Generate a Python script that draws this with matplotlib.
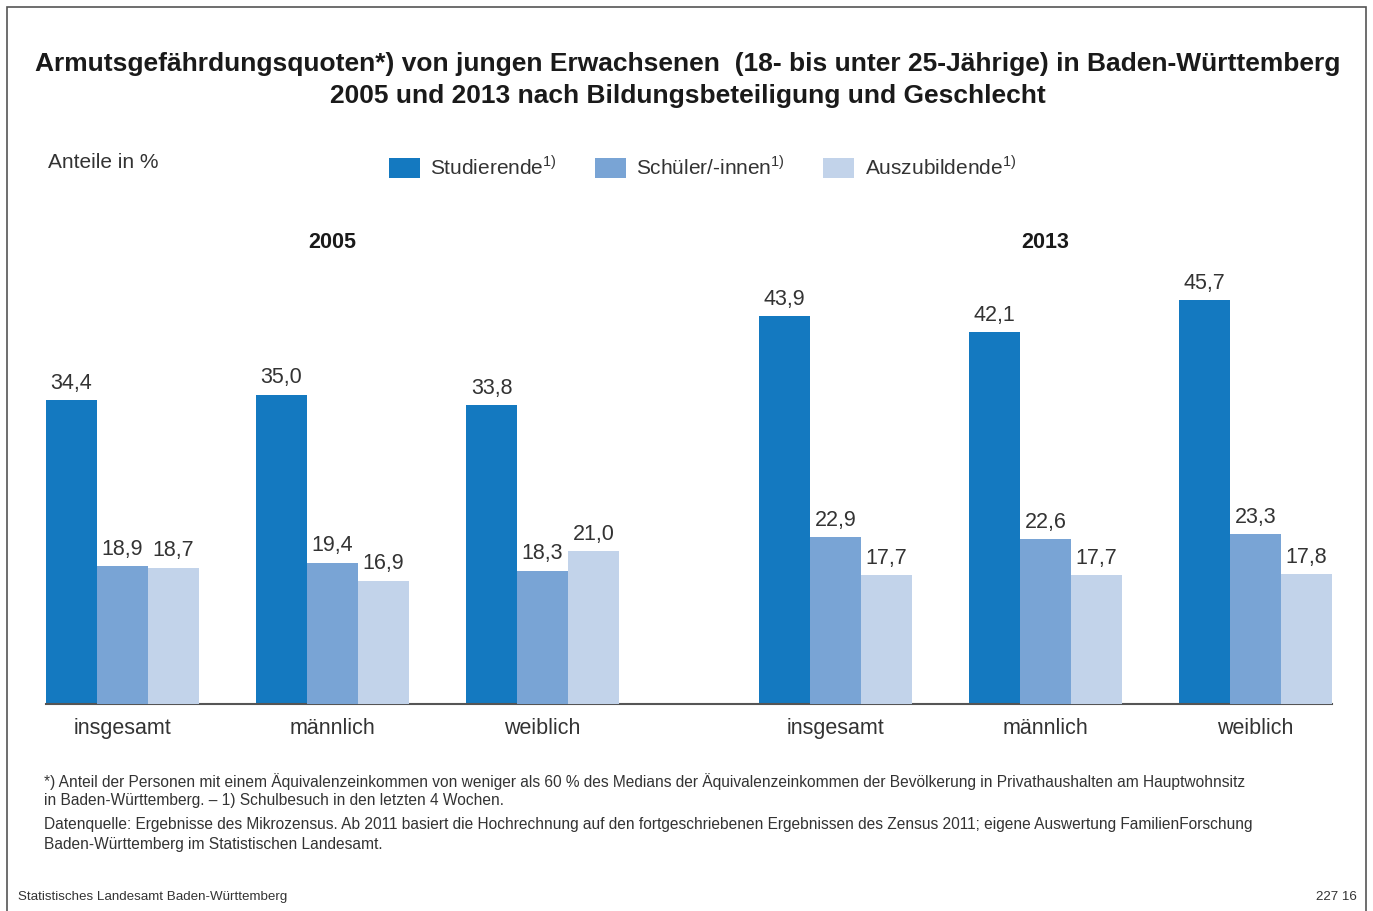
# Armutsgefaehrdungsquoten junger Erwachsener in BW, 2005 und 2013
import numpy as np
import matplotlib.pyplot as plt
from matplotlib.patches import Rectangle

plt.rcParams['font.family'] = ['Liberation Sans', 'DejaVu Sans']
plt.rcParams['mathtext.fontset'] = 'custom'
plt.rcParams['mathtext.rm'] = 'Liberation Sans'

groups = ['insgesamt', 'männlich', 'weiblich', 'insgesamt', 'männlich', 'weiblich']
years = ['2005', '2013']
studierende = [34.4, 35.0, 33.8, 43.9, 42.1, 45.7]
schueler = [18.9, 19.4, 18.3, 22.9, 22.6, 23.3]
azubis = [18.7, 16.9, 21.0, 17.7, 17.7, 17.8]

series = [studierende, schueler, azubis]
names = ['Studierende$^{\\mathrm{1)}}$', 'Schüler/-innen$^{\\mathrm{1)}}$', 'Auszubildende$^{\\mathrm{1)}}$']
colors = ['#1479c0', '#79a4d5', '#c2d3ea']
txt = '#333333'

fig = plt.figure(figsize=(13.73, 9.11), dpi=100)
W, H = 1373, 911

# frame round the whole figure
fig.patches.append(Rectangle((7 / W, -0.01), 1359 / W, 1 - 7 / H + 0.01,
                             transform=fig.transFigure, fill=False,
                             edgecolor='#555555', linewidth=1.2))

ax = fig.add_axes([46 / W, 1 - 704 / H, (1332 - 46) / W, 442 / H])
# the original draws the Studierende bars on a different scale than the
# other two series, so those two get their own (hidden) axis
ax2 = ax.twinx()

gap = 1.395
x = np.array([0, 1, 2, 2 + gap, 3 + gap, 4 + gap])
w = 0.243

handles = []
for i, (vals, name, c) in enumerate(zip(series, names, colors)):
    a = ax if i == 0 else ax2
    b = a.bar(x + (i - 1) * w, vals, width=w, color=c, label=name)
    handles.append(b)
    for rect, v in zip(b, vals):
        a.annotate(f'{v:.1f}'.replace('.', ','),
                   (rect.get_x() + rect.get_width() / 2, rect.get_height()),
                   xytext=(0, 4.5), textcoords='offset points',
                   ha='center', va='bottom', fontsize=15.5, color=txt)

ax.set_xlim(x[0] - 1.5 * w, x[-1] + 1.5 * w)
ax.set_ylim(0, 50)
ax2.set_ylim(0, 60.6)
ax.set_xticks(x)
ax.set_xticklabels(groups, fontsize=15.5, color=txt)
ax.tick_params(axis='x', length=0, pad=10)
for a in (ax, ax2):
    a.set_yticks([])
    for s in ['top', 'left', 'right']:
        a.spines[s].set_visible(False)
ax2.spines['bottom'].set_visible(False)
ax.spines['bottom'].set_color('#555555')
ax.spines['bottom'].set_linewidth(1.5)
ax.spines['bottom'].set_zorder(5)

# year headings over the middle group
for yr, xc in zip(years, [x[1], x[4]]):
    ax.text(xc, 52.2, yr, ha='center', va='center', fontsize=15.5,
            fontweight='bold', color='#1a1a1a', clip_on=False)

fig.legend(handles=handles, loc='center left',
           bbox_to_anchor=(370 / W, 1 - 167 / H),
           ncol=3, frameon=False,
           fontsize=15, handlelength=1.5, handleheight=1.1,
           handletextpad=0.5, columnspacing=1.8, labelcolor=txt)

fig.text(688 / W, 1 - 64 / H,
         'Armutsgefährdungsquoten*) von jungen Erwachsenen  (18- bis unter 25-Jährige) in Baden-Württemberg',
         ha='center', va='center', fontsize=19, fontweight='bold', color='#1a1a1a')
fig.text(688 / W, 1 - 96 / H,
         '2005 und 2013 nach Bildungsbeteiligung und Geschlecht',
         ha='center', va='center', fontsize=19, fontweight='bold', color='#1a1a1a')

fig.text(48 / W, 1 - 163 / H, 'Anteile in %', ha='left', va='center',
         fontsize=15, color=txt)

foot = [
    (782, '*) Anteil der Personen mit einem Äquivalenzeinkommen von weniger als 60 % des Medians der Äquivalenzeinkommen der Bevölkerung in Privathaushalten am Hauptwohnsitz'),
    (801, 'in Baden-Württemberg. – 1) Schulbesuch in den letzten 4 Wochen.'),
    (825, 'Datenquelle: Ergebnisse des Mikrozensus. Ab 2011 basiert die Hochrechnung auf den fortgeschriebenen Ergebnissen des Zensus 2011; eigene Auswertung FamilienForschung'),
    (844, 'Baden-Württemberg im Statistischen Landesamt.'),
]
for yy, t in foot:
    fig.text(44 / W, 1 - yy / H, t, ha='left', va='center', fontsize=11.2, color=txt)

fig.text(18 / W, 1 - 897 / H, 'Statistisches Landesamt Baden-Württemberg',
         ha='left', va='center', fontsize=9.6, color=txt)
fig.text(1357 / W, 1 - 897 / H, '227 16', ha='right', va='center',
         fontsize=9.6, color=txt)

fig.savefig('out.png', dpi=100)
